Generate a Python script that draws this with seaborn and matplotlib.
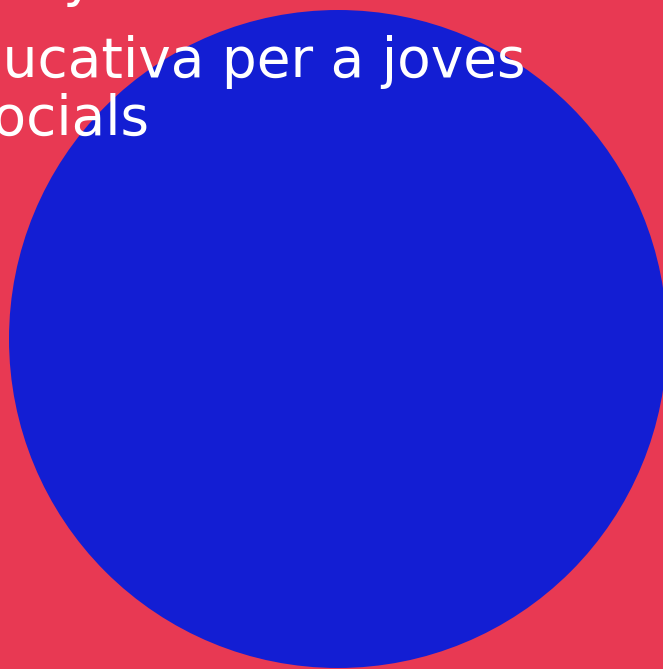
import matplotlib
matplotlib.use("Agg")
from matplotlib import pyplot as plt
from matplotlib.patches import Circle
import seaborn as sns

# canvas and shapes (pixel units)
canvas_w = 663
canvas_h = 669
circle_x = [338]
circle_y = [339]
circle_r = [329]

# text lines, each with its left x and baseline y
text_lines = ["educativa per a joves", "socials", "y"]
text_x = [-66, -36, 62]
text_y = [77, 135, -5]

bg_color = "#E83953"
circle_color = "#131ED3"

sns.set_theme(style="white", rc={"axes.facecolor": bg_color, "figure.facecolor": bg_color})
plt.rcParams["font.family"] = ["DejaVu Sans"]

fig = plt.figure(figsize=(6.63, 6.69), dpi=100)
ax = fig.add_axes([0, 0, 1, 1])
ax.set_xlim(0, canvas_w)
ax.set_ylim(canvas_h, 0)
ax.axis("off")
ax.add_patch(plt.Rectangle((0, 0), canvas_w, canvas_h, color=bg_color, zorder=0))

for cx, cy, r in zip(circle_x, circle_y, circle_r):
    ax.add_patch(Circle((cx, cy), r, color=circle_color, zorder=1, lw=0))

for line, x, y in zip(text_lines, text_x, text_y):
    ax.text(x, y, line, color="white", fontsize=39.6, ha="left", va="baseline", zorder=2)

fig.savefig("out.png", dpi=100, facecolor=bg_color)
